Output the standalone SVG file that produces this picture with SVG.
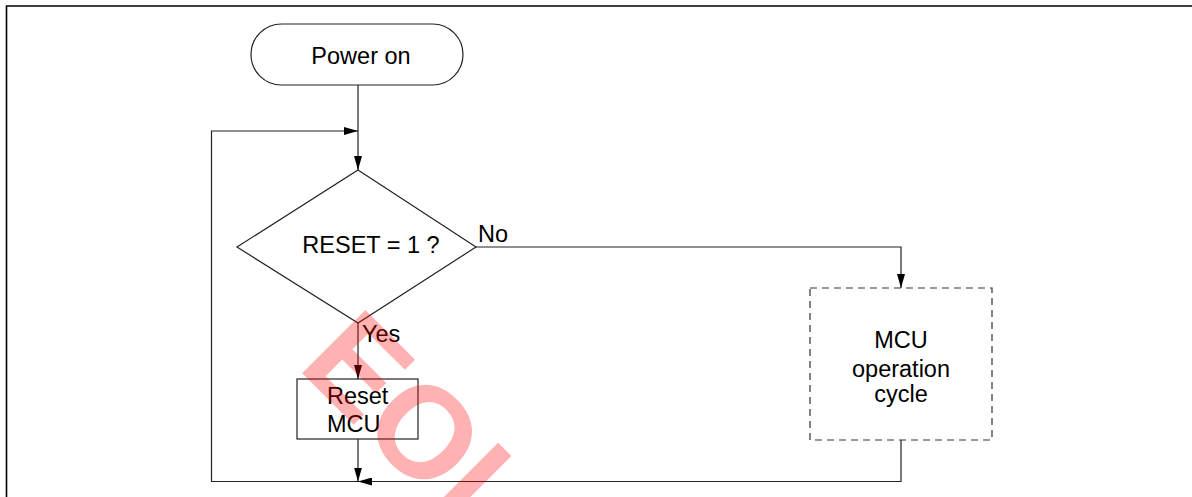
<svg xmlns="http://www.w3.org/2000/svg" width="1192" height="497" viewBox="0 0 1192 497">
<style>
  .t { font-family: "Liberation Sans", Arial, sans-serif; font-size: 23.5px; fill: #000; }
  .shape { fill: #fff; stroke: #222; stroke-width: 1.2; }
  .dash { fill: #fff; stroke: #333; stroke-width: 1.2; stroke-dasharray: 7 5; }
  .conn { fill: none; stroke: #222; stroke-width: 1.2; }
  .frame { fill: none; stroke: #000; stroke-width: 1.6; }
  .wm { font-family: "Liberation Sans", Arial, sans-serif; font-weight: bold; font-size: 130px; fill: #f00; fill-opacity: 0.3; }
</style>
<defs>
  <marker id="arr" markerUnits="userSpaceOnUse" viewBox="0 0 14 8" refX="14" refY="4" markerWidth="14" markerHeight="8" orient="auto">
    <path d="M0,0 L14,4 L0,8 z" fill="#000"/>
  </marker>
</defs>
<rect width="1192" height="497" fill="#fff"/>
<path class="frame" d="M6.5,497 V6 H1192"/>

<g id="connectors">
  <path class="conn" d="M358,85 V170" marker-end="url(#arr)"/>
  <path class="conn" d="M358,323 V379" marker-end="url(#arr)"/>
  <path class="conn" d="M358,439 V481.5" marker-end="url(#arr)"/>
  <path class="conn" d="M476,247 H901 V288" marker-end="url(#arr)"/>
  <path class="conn" d="M901,440 V481.5 H358" marker-end="url(#arr)"/>
  <path class="conn" d="M358,481.5 H211.5 V131 H358" marker-end="url(#arr)"/>
</g>

<g id="power-on">
  <rect class="shape" x="251" y="24" width="212" height="61" rx="30.5" ry="30.5"/>
  <text class="t" x="361" y="64" text-anchor="middle">Power on</text>
</g>

<g id="reset-decision">
  <polygon class="shape" points="358,170 476,247 358,323 237,247"/>
  <text class="t" x="371" y="253" text-anchor="middle">RESET = 1 ?</text>
  <text class="t" x="478" y="242">No</text>
  <text class="t" x="362" y="342">Yes</text>
</g>

<g id="reset-mcu">
  <rect class="shape" x="297" y="379" width="121" height="60"/>
  <text class="t" x="327" y="404">Reset</text>
  <text class="t" x="327" y="432">MCU</text>
</g>

<g id="mcu-operation-cycle">
  <rect class="dash" x="810" y="288" width="182" height="152"/>
  <text class="t" x="901" y="348" text-anchor="middle">MCU</text>
  <text class="t" x="901" y="376.5" text-anchor="middle">operation</text>
  <text class="t" x="901" y="402" text-anchor="middle">cycle</text>
</g>

<text class="wm" transform="translate(296,367) rotate(45)">EOL</text>
</svg>
